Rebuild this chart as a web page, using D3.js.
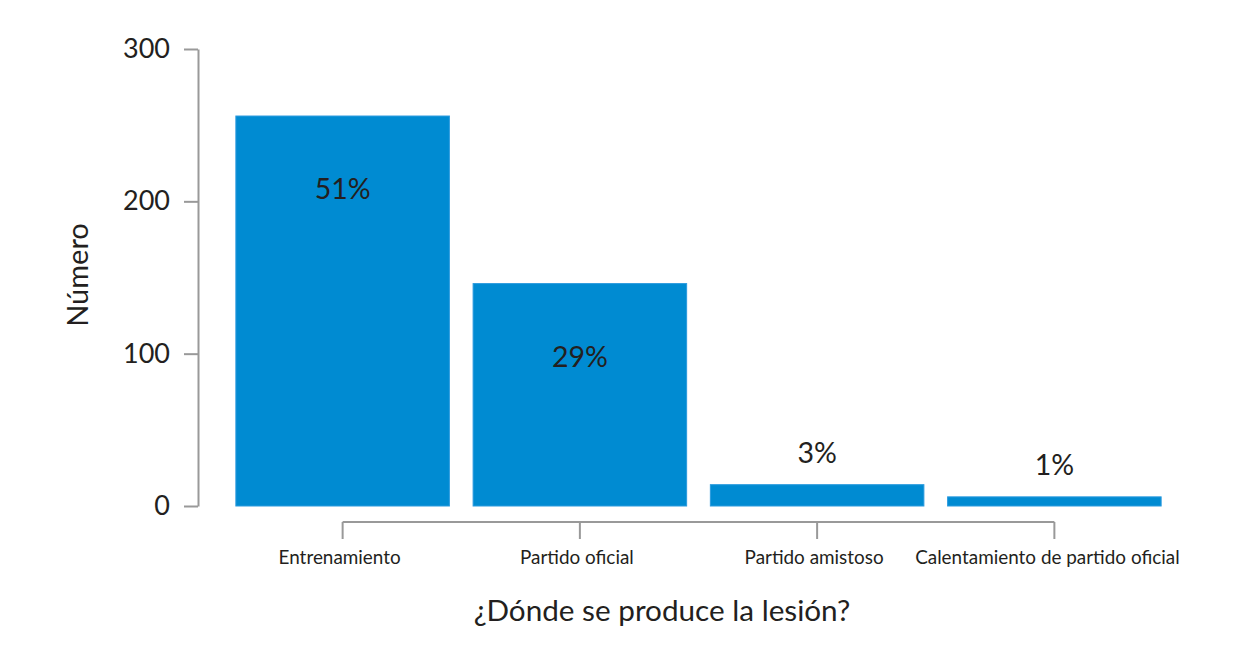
<!DOCTYPE html>
<html>
<head>
<meta charset="utf-8">
<script src="https://cdn.jsdelivr.net/npm/d3@7"></script>
<style>
  body { margin: 0; background: #fff; }
  svg text { font-family: "Lato", "Open Sans", sans-serif; fill: #231f20; }
</style>
</head>
<body>
<svg id="chart" width="1260" height="662"></svg>
<script>
const categories = ["Entrenamiento", "Partido oficial", "Partido amistoso", "Calentamiento de partido oficial"];
const values = [256, 146, 14, 6];
const percentLabels = ["51%", "29%", "3%", "1%"];
const yTicks = [0, 100, 200, 300];
const xTitle = "¿Dónde se produce la lesión?";
const yTitle = "Número";

const svg = d3.select("#chart");
const x = d3.scaleBand().domain(categories).range([224, 1173]).paddingInner(0.1).paddingOuter(0.05);
const y = d3.scaleLinear().domain([0, 300]).range([506, 49]);
const axisColor = "#999";

// Y axis
const yAxis = svg.append("g").attr("transform", "translate(198,0)")
  .call(d3.axisLeft(y).tickValues(yTicks).tickSize(14).tickSizeOuter(0).tickPadding(14));
yAxis.select(".domain").attr("stroke", axisColor).attr("stroke-width", 2);
yAxis.selectAll(".tick line").attr("stroke", axisColor).attr("stroke-width", 2);
yAxis.selectAll(".tick text").attr("font-size", 27).attr("fill", "#231f20").attr("font-family", "Lato, sans-serif");

// Bars
svg.append("g").selectAll("rect").data(values).join("rect")
  .attr("x", (d, i) => x(categories[i]))
  .attr("y", d => y(d))
  .attr("width", x.bandwidth())
  .attr("height", d => y(0) - y(d))
  .attr("fill", "#008BD2")
  .attr("stroke", "#2a9ade").attr("stroke-width", 1);

// Percent labels
svg.append("g").selectAll("text").data(values).join("text")
  .attr("x", (d, i) => x(categories[i]) + x.bandwidth() / 2)
  .attr("y", d => d > 50 ? y(d) + 83 : y(d) - 22)
  .attr("text-anchor", "middle")
  .attr("font-size", 28.5)
  .text((d, i) => percentLabels[i]);

// X axis (bracket between category centers)
const centers = categories.map(c => x(c) + x.bandwidth() / 2);
const xAxisY = 522;
const xg = svg.append("g");
xg.append("line")
  .attr("x1", centers[0]).attr("x2", centers[centers.length - 1])
  .attr("y1", xAxisY).attr("y2", xAxisY)
  .attr("stroke", axisColor).attr("stroke-width", 2);
xg.selectAll("line.tick").data(centers).join("line").attr("class", "tick")
  .attr("x1", d => d).attr("x2", d => d)
  .attr("y1", xAxisY).attr("y2", xAxisY + 17)
  .attr("stroke", axisColor).attr("stroke-width", 2);
xg.selectAll("text").data(categories).join("text")
  .attr("x", (d, i) => centers[i] - (i === categories.length - 1 ? 7 : 3))
  .attr("y", 564)
  .attr("text-anchor", "middle")
  .attr("font-size", 18.9)
  .text(d => d);

// Titles
svg.append("text").attr("x", 662).attr("y", 621).attr("text-anchor", "middle")
  .attr("font-size", 29.7).text(xTitle);
svg.append("text").attr("transform", "translate(88,275) rotate(-90)")
  .attr("text-anchor", "middle").attr("font-size", 29).text(yTitle);
</script>
</body>
</html>
